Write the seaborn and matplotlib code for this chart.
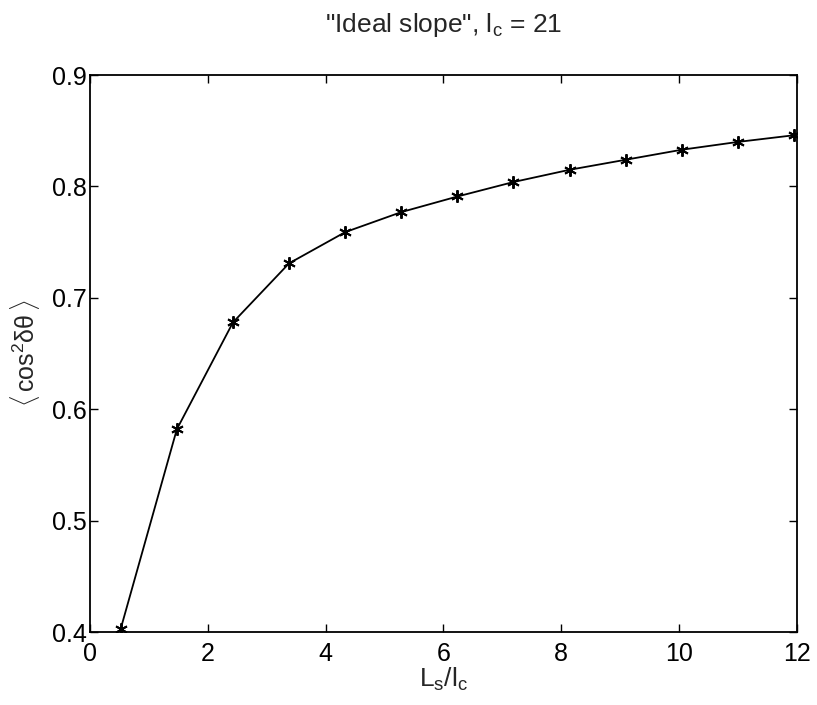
import matplotlib
matplotlib.use("Agg")
import matplotlib.pyplot as plt
import seaborn as sns
import pandas as pd

# Data
ls_over_lc = [0.524, 1.476, 2.429, 3.381, 4.333, 5.286, 6.238,
              7.190, 8.143, 9.095, 10.048, 11.000, 11.952]
cos2_mean = [0.403, 0.582, 0.678, 0.731, 0.759, 0.777, 0.791,
             0.804, 0.815, 0.824, 0.833, 0.840, 0.846]
x_ticks = [0, 2, 4, 6, 8, 10, 12]
y_ticks = [0.4, 0.5, 0.6, 0.7, 0.8, 0.9]
y_tick_labels = ["0.4", "0.5", "0.6", "0.7", "0.8", "0.9"]

sns.set_style("ticks")
plt.rcParams["font.family"] = ["Liberation Sans", "DejaVu Sans"]
plt.rcParams["mathtext.fontset"] = "custom"
plt.rcParams["mathtext.rm"] = "Liberation Sans"
plt.rcParams["mathtext.it"] = "Liberation Sans"
plt.rcParams["mathtext.sf"] = "Liberation Sans"

df = pd.DataFrame({"x": ls_over_lc, "y": cos2_mean})

fig = plt.figure(figsize=(8.17, 7.05), dpi=100)
ax = fig.add_axes([0.110, 0.1035, 0.8654, 0.790])

sns.lineplot(data=df, x="x", y="y", ax=ax, color="black", linewidth=1.3,
             marker=(6, 2, 0), markersize=9, markeredgecolor="black",
             markerfacecolor="black", markeredgewidth=1.4)

ax.set_xlim(0, 12)
ax.set_ylim(0.4, 0.9)
ax.set_xticks(x_ticks)
ax.set_xticklabels([str(t) for t in x_ticks])
ax.set_yticks(y_ticks)
ax.set_yticklabels(y_tick_labels)

ax.tick_params(direction="in", length=6, width=1, top=True, right=True,
               labelsize=18, colors="black")
ax.tick_params(axis="x", pad=7)
ax.tick_params(axis="y", pad=2)
for s in ax.spines.values():
    s.set_linewidth(1.3)
    s.set_color("black")
    s.set_visible(True)

ax.set_title('"Ideal slope", $\\mathregular{l_c}$ = 21', fontsize=19, pad=31)
ax.set_xlabel("$\\mathregular{L_s/l_c}$", fontsize=19, labelpad=0)
ax.set_ylabel("$\\langle\\,\\mathregular{cos^2\\delta\\theta}\\,\\rangle$",
              fontsize=18, labelpad=7)

fig.savefig("out.png", dpi=100)
